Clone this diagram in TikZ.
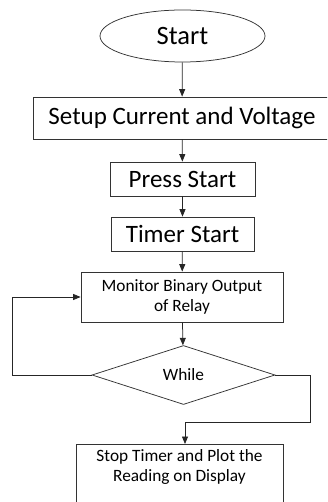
\documentclass[tikz,border=0pt]{standalone}
\usepackage{fontspec}
\setmainfont{Carlito}
\usetikzlibrary{shapes.geometric,arrows.meta}
\begin{document}
\begin{tikzpicture}[x=1pt,y=-1pt,
  line width=0.75pt,
  box/.style={draw=black!80, rectangle, inner sep=0pt, align=center},
  big/.style={font=\fontsize{25}{29}\selectfont},
  small/.style={font=\fontsize{17.3}{20}\selectfont},
  arr/.style={draw=black!85, -{Triangle[length=7.5pt,width=6pt]}}]
\useasboundingbox (0,0) rectangle (327,502);
\clip (0,0) rectangle (327,502);
\node[draw=black!80, ellipse, inner sep=0pt, minimum width=165, minimum height=52,
      font=\fontsize{26.5}{30}\selectfont] (start) at (182.5,36) {Start};
\node[box, big, minimum width=298, minimum height=42] (setup) at (182,118) {Setup Current and Voltage};
\node[box, big, minimum width=145, minimum height=34] (press) at (182.5,179) {Press Start};
\node[box, big, minimum width=143, minimum height=34] (timer) at (182.5,234) {Timer Start};
\node[box, small, minimum width=202, minimum height=50] (mon) at (182,297) {Monitor Binary Output\\of Relay};
\node[draw=black!80, diamond, aspect=3.1, inner sep=0pt, minimum width=183, minimum height=59, small] (dia) at (183.5,375) {While};
\node[box, minimum width=207, minimum height=80, anchor=north] (stopbox) at (179.5,444) {};
\node[small, align=center] (stoptext) at (179.5,467) {Stop Timer and Plot the\\Reading on Display};
\coordinate (loopl) at (12,375);
\coordinate (loopr) at (310,422);
\coordinate (stopin) at (185,444);
\draw[arr] (start) -- (setup);
\draw[arr] (setup) -- (press);
\draw[arr] (press) -- (timer);
\draw[arr] (timer) -- (mon);
\draw[arr] (mon) -- (dia);
\draw[arr] (dia.west) -- (loopl) |- (mon.west);
\draw[arr] (dia.east) -| (loopr) -| (stopin);
\end{tikzpicture}
\end{document}
